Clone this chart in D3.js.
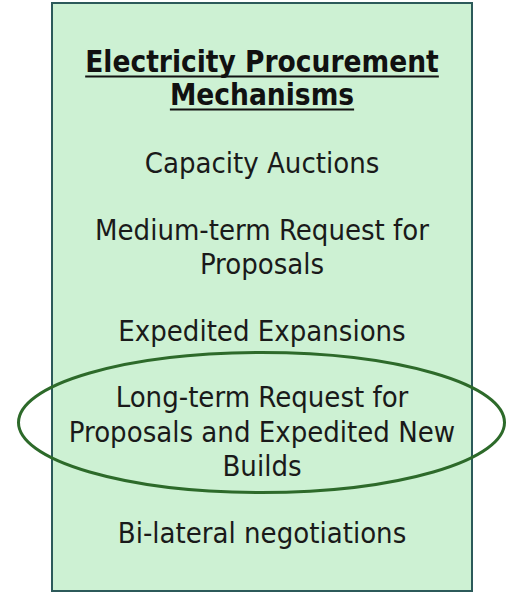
<!DOCTYPE html>
<html>
<head>
<meta charset="utf-8">
<script src="https://cdn.jsdelivr.net/npm/d3@7"></script>
<style>
    html, body { margin: 0; padding: 0; background: #ffffff; }
</style>
</head>
<body>
<div id="container"></div>
<script>
"use strict";

var titleLines = ["Electricity Procurement", "Mechanisms"];

var mechanisms = [
    ["Capacity Auctions"],
    ["Medium-term Request for", "Proposals"],
    ["Expedited Expansions"],
    ["Long-term Request for", "Proposals and Expedited New", "Builds"],
    ["Bi-lateral negotiations"]
];

var highlighted = [3];

var width = 510,
    height = 592;

var box = { left: 52, right: 472, top: 3, bottom: 591 };
var cx = (box.left + box.right) / 2;

var svg = d3.select("#container").append("svg")
    .attr("width", width)
    .attr("height", height);

svg.append("rect")
    .attr("x", box.left)
    .attr("y", box.top)
    .attr("width", box.right - box.left)
    .attr("height", box.bottom - box.top)
    .attr("fill", "#cdf1d3")
    .attr("stroke", "#2c5a5a")
    .attr("stroke-width", 2);

var fontFamily = "'DejaVu Sans Condensed', 'DejaVu Sans', sans-serif";

// title
var titleY = d3.scaleLinear().domain([0, 1]).range([72, 105]);

var title = svg.append("g");
title.selectAll("text")
    .data(titleLines)
    .enter().append("text")
        .attr("x", cx)
        .attr("y", function(d, i) { return titleY(i); })
        .attr("text-anchor", "middle")
        .attr("font-family", fontFamily)
        .attr("font-weight", "bold")
        .attr("font-size", 29.5)
        .attr("fill", "#111")
        .text(function(d) { return d; });

title.selectAll("text").each(function(d, i) {
    var w = this.getComputedTextLength();
    title.append("line")
        .attr("x1", cx - w / 2)
        .attr("x2", cx + w / 2)
        .attr("y1", titleY(i) + 4.5)
        .attr("y2", titleY(i) + 4.5)
        .attr("stroke", "#111")
        .attr("stroke-width", 2);
});

// layout of the item lines: line step inside an item, extra gap between items
var lineStep = 34.5,
    itemGap = 32,
    firstBaseline = 173;

var rows = [];
var y0 = firstBaseline;
mechanisms.forEach(function(lines, k) {
    lines.forEach(function(t, j) {
        rows.push({ item: k, text: t, y: y0 + j * lineStep });
    });
    y0 += lines.length * lineStep + itemGap;
});

svg.append("g").selectAll("text")
    .data(rows)
    .enter().append("text")
        .attr("x", cx)
        .attr("y", function(d) { return d.y; })
        .attr("text-anchor", "middle")
        .attr("font-family", fontFamily)
        .attr("font-size", 29)
        .attr("fill", "#1a1a1a")
        .text(function(d) { return d.text; });

// ellipse around the highlighted mechanism
highlighted.forEach(function(k) {
    var ys = rows.filter(function(r) { return r.item === k; }).map(function(r) { return r.y; });
    var mid = (d3.min(ys) + d3.max(ys)) / 2 - 19;
    svg.append("ellipse")
        .attr("cx", cx - 0.5)
        .attr("cy", mid)
        .attr("rx", 243)
        .attr("ry", 70)
        .attr("fill", "none")
        .attr("stroke", "#2d6a2a")
        .attr("stroke-width", 3);
});
</script>
</body>
</html>
